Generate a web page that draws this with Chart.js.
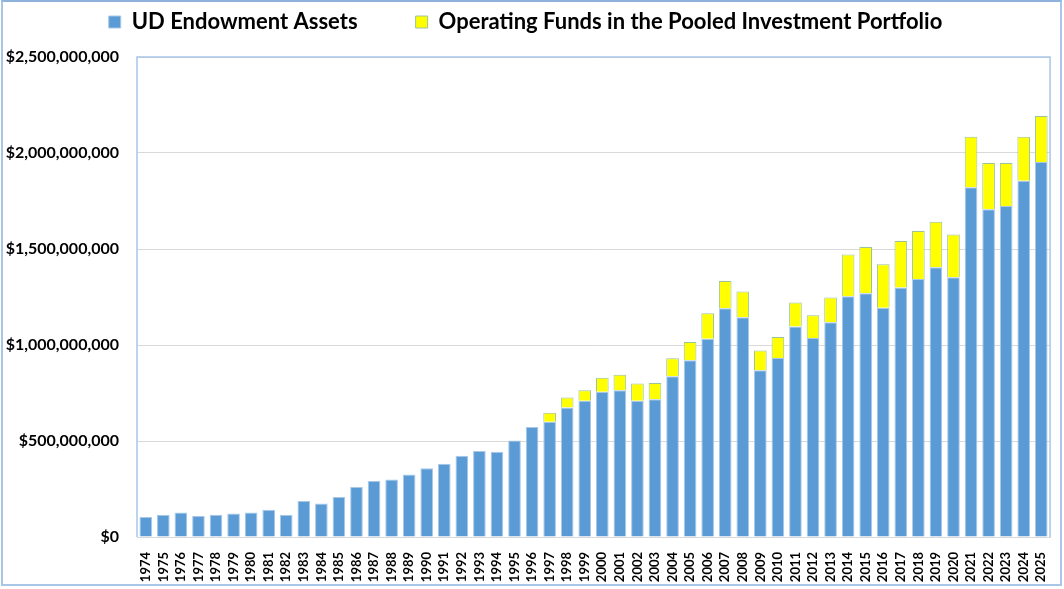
<!DOCTYPE html>
<html>
<head>
<meta charset="utf-8">
<script src="https://cdn.jsdelivr.net/npm/chart.js@4.4.1/dist/chart.umd.min.js"></script>
<style>
  html, body { margin: 0; padding: 0; background: #ffffff; }
  #wrap { position: absolute; left: 0; top: 0; width: 1064px; height: 589px; }
  #frame { position: absolute; left: 1px; top: 0px; width: 1061px; height: 586px; box-sizing: border-box;
           border: 2px solid #a9c6e6; border-top-color: #8db3dd; pointer-events: none; }
</style>
</head>
<body>
<div id="wrap">
  <canvas id="c" width="1064" height="589"></canvas>
  <div id="frame"></div>
</div>
<script>
const years = ['1974','1975','1976','1977','1978','1979','1980','1981','1982','1983','1984','1985','1986','1987','1988','1989','1990','1991','1992','1993','1994','1995','1996','1997','1998','1999','2000','2001','2002','2003','2004','2005','2006','2007','2008','2009','2010','2011','2012','2013','2014','2015','2016','2017','2018','2019','2020','2021','2022','2023','2024','2025'];

// UD Endowment Assets (USD)
const endowment = [104e6,116e6,127e6,109e6,116e6,123e6,128e6,142e6,116e6,187e6,174e6,208e6,260e6,292e6,299e6,326e6,358e6,382e6,423e6,448e6,444e6,502e6,573e6,600e6,675e6,710e6,757e6,764e6,710e6,717e6,837e6,920e6,1033e6,1191e6,1144e6,868e6,932e6,1097e6,1036e6,1118e6,1254e6,1269e6,1194e6,1300e6,1344e6,1405e6,1353e6,1821e6,1707e6,1724e6,1856e6,1953e6];

// Totals (endowment + operating funds)
const totals = [104e6,116e6,127e6,109e6,116e6,123e6,128e6,142e6,116e6,187e6,174e6,208e6,260e6,292e6,299e6,326e6,358e6,382e6,423e6,448e6,444e6,502e6,573e6,647e6,727e6,764e6,830e6,845e6,800e6,802e6,931e6,1016e6,1165e6,1333e6,1278e6,972e6,1042e6,1222e6,1155e6,1247e6,1472e6,1510e6,1420e6,1542e6,1594e6,1642e6,1575e6,2085e6,1948e6,1948e6,2085e6,2193e6];

// Operating Funds in the Pooled Investment Portfolio (USD)
const operating = totals.map((t, i) => Math.max(0, t - endowment[i]));

const yTicks = [0, 500e6, 1000e6, 1500e6, 2000e6, 2500e6];

const LEGEND_FONT = 22;
const LEGEND_PAD = 58;
const TOP_PAD = 22 - LEGEND_PAD - LEGEND_FONT / 2;        // text centre at y≈22
const LEGEND_EXTRA = 57 - (TOP_PAD + LEGEND_FONT + LEGEND_PAD + 10); // plot top at y≈57

const legendSpacing = {
  id: 'legendSpacing',
  beforeInit(chart) {
    const lg = chart.legend;
    if (!lg) return;
    const fit = lg.fit;
    lg.fit = function () { fit.call(this); this.height += LEGEND_EXTRA; };
  }
};

const plotFrame = {
  id: 'plotFrame',
  afterDatasetsDraw(chart) {
    const a = chart.chartArea, ctx = chart.ctx;
    ctx.save();
    ctx.strokeStyle = '#a9c6e6';
    ctx.lineWidth = 1.5;
    ctx.beginPath();
    ctx.moveTo(a.left, a.bottom);
    ctx.lineTo(a.left, a.top);
    ctx.lineTo(a.right, a.top);
    ctx.lineTo(a.right, a.bottom);
    ctx.stroke();
    ctx.restore();
  }
};

new Chart(document.getElementById('c'), {
  type: 'bar',
  data: {
    labels: years,
    datasets: [
      { label: 'UD Endowment Assets', data: endowment, backgroundColor: '#5b9bd5',
        borderColor: '#a9c8e8', borderWidth: 1, barPercentage: 0.72, categoryPercentage: 1.0 },
      { label: 'Operating Funds in the Pooled Investment Portfolio', data: operating, backgroundColor: '#ffff00',
        borderColor: '#9cc49a', borderWidth: 1, barPercentage: 0.72, categoryPercentage: 1.0 }
    ]
  },
  options: {
    responsive: false,
    animation: false,
    devicePixelRatio: 1,
    layout: { padding: { left: 0, right: 13, top: TOP_PAD, bottom: 0 } },
    plugins: {
      legend: {
        position: 'top',
        labels: {
          font: { family: 'Lato', size: LEGEND_FONT, weight: 'bold' },
          color: '#000000',
          boxWidth: 12, boxHeight: 12,
          padding: LEGEND_PAD
        }
      },
      tooltip: { enabled: false }
    },
    scales: {
      x: {
        stacked: true,
        grid: { display: false },
        border: { display: true, color: '#d9d9d9' },
        ticks: {
          autoSkip: false, maxRotation: 90, minRotation: 90,
          font: { family: 'Lato', size: 13, weight: 'bold' }, color: '#000000', padding: 7
        },
        afterFit(scale) { scale.height = 52; }
      },
      y: {
        stacked: true,
        min: 0, max: 2500e6,
        afterBuildTicks(scale) { scale.ticks = yTicks.map(v => ({ value: v })); },
        grid: { color: '#d9d9d9', drawTicks: false, lineWidth: 1 },
        border: { display: false },
        ticks: {
          font: { family: 'Lato', size: 16, weight: 'bold' }, color: '#000000', padding: 18,
          callback: v => '$' + Number(v).toLocaleString('en-US')
        },
        afterFit(scale) { scale.width = 137; }
      }
    }
  },
  plugins: [legendSpacing, plotFrame]
});
</script>
</body>
</html>
